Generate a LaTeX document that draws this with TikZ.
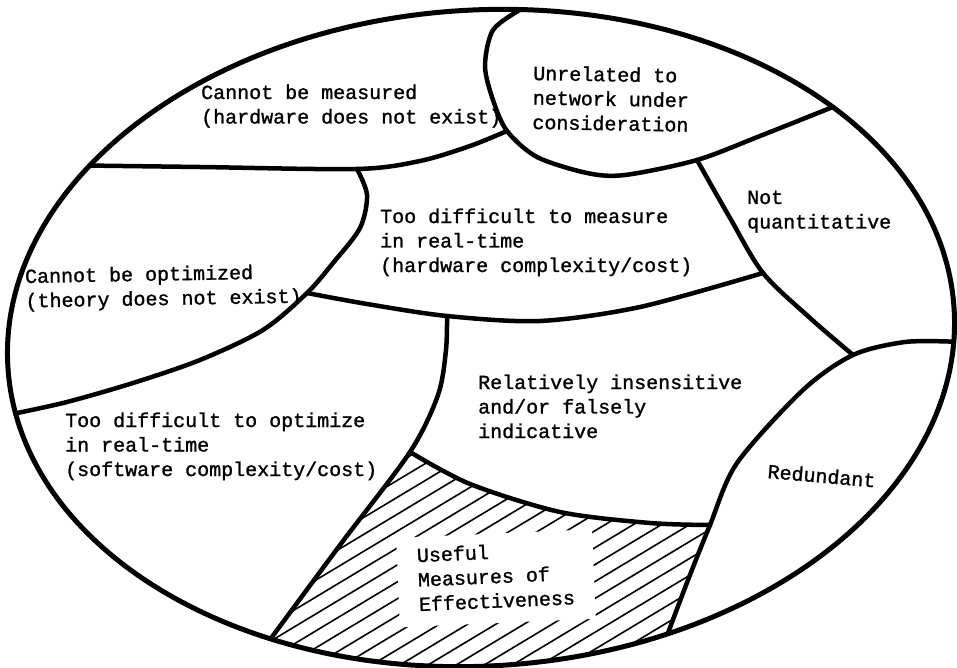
\documentclass[tikz,border=0pt]{standalone}
\usepackage{fontspec}
\newfontfamily\tymono[FakeBold=1.2]{Liberation Mono}
\newcommand{\blk}[1]{\begin{tabular}[t]{@{}l@{}}#1\end{tabular}}
\begin{document}
\begin{tikzpicture}[x=1pt,y=-1pt,
  outer/.style={line width=5pt},
  border/.style={line width=4.5pt, line join=round, line cap=round},
  hatchline/.style={line width=1.6pt},
  lbl/.style={font=\fontsize{20}{24.5}\selectfont\tymono, inner sep=0pt, anchor=base west}]
\useasboundingbox (0,0) rectangle (957,668);
\fill[white] (0,0) rectangle (957,668);

% outer ellipse and points on it
\begin{scope}[shift={(481,338)}, rotate=3.5]
  \coordinate (eA)  at (143.3:474pt and 328pt);
  \coordinate (eU1) at (82.8:474pt and 328pt);
  \coordinate (eU2) at (39.6:474pt and 328pt);
  \coordinate (eR1) at (-5.7:474pt and 328pt);
  \coordinate (eR2) at (-69.2:474pt and 328pt);
  \coordinate (eD)  at (-118.8:474pt and 328pt);
  \coordinate (eC)  at (188.2:474pt and 328pt);
\end{scope}

% junctions
\coordinate (jAC) at (357,169);
\coordinate (jAU) at (507,131);
\coordinate (jUN) at (697,160);
\coordinate (jNB) at (763,273);
\coordinate (jNR) at (853,355);
\coordinate (jRE) at (710,525);
\coordinate (jCB) at (307,293);
\coordinate (jBD) at (447,316);
\coordinate (jDE) at (410,452);

% hatching of the useful region
\begin{scope}
  \clip[shift={(481,338)}, rotate=3.5] (0,0) ellipse [x radius=474pt, y radius=328pt];
  \clip plot[smooth] coordinates {(jDE) (340,545) (eD)} -- (262,690) -- (690,690)
        -- plot[smooth] coordinates {(eR2) (688,580) (jRE)}
        -- plot[smooth] coordinates {(jRE) (650,523) (560,512) (470,484) (jDE)} -- cycle;
  \foreach \k in {-22,...,22}
    \draw[hatchline] ({490+\k*7.47-257},{560+\k*12.43+154.5}) -- ++(514,-309);
\end{scope}

% region boundaries
\draw[border] plot[smooth] coordinates {(eA) (200,167) (jAC) (420,161) (470,146) (jAU)};
\draw[border] plot[smooth] coordinates {(eU1) (493,30) (485,66) (493,100) (jAU) (537,157) (587,173) (625,175) (jUN) (760,136) (eU2)};
\draw[border] plot[smooth] coordinates {(jUN) (730,218) (jNB) (810,318) (jNR)};
\draw[border] plot[smooth] coordinates {(jCB) (367,304) (jBD) (540,321) (640,307) (jNB)};
\draw[border] plot[smooth] coordinates {(jAC) (367,195) (360,228) (333,263) (jCB) (263,330) (200,360) (133,383) (67,402) (eC)};
\draw[border] plot[smooth] coordinates {(jBD) (446,350) (438,395) (jDE) (340,545) (eD)};
\draw[border] plot[smooth] coordinates {(jDE) (470,484) (560,512) (650,523) (jRE)};
\draw[border] plot[smooth] coordinates {(eR1) (905,342) (jNR) (803,390) (737,463) (jRE) (688,580) (eR2)};

\draw[outer, shift={(481,338)}, rotate=3.5] (0,0) ellipse [x radius=474pt, y radius=328pt];

% labels
\node[lbl] (measured) at (201,99) {\blk{Cannot be measured\\(hardware does not exist)}};
\node[lbl, rotate=-1] (unrelated) at (533,80) {\blk{Unrelated to\\network under\\consideration}};
\node[lbl] (notq) at (747,204) {\blk{Not\\quantitative}};
\node[lbl] (measure) at (380,223) {\blk{Too difficult to measure\\in real-time\\(hardware complexity/cost)}};
\node[lbl, rotate=1] (optimized) at (25,283) {\blk{Cannot be optimized\\(theory does not exist)}};
\node[lbl] (insens) at (478,389) {\blk{Relatively insensitive\\and/or falsely\\indicative}};
\node[lbl] (optimize) at (65,427) {\blk{Too difficult to optimize\\in real-time\\(software complexity/cost)}};
\node[lbl, rotate=-5] (redund) at (767,478) {Redundant};
\node[lbl, fill=white, inner xsep=20pt, inner ysep=8pt, rotate=2.5] (useful) at (397,563) {\blk{Useful\\Measures of\\Effectiveness}};
\end{tikzpicture}
\end{document}
